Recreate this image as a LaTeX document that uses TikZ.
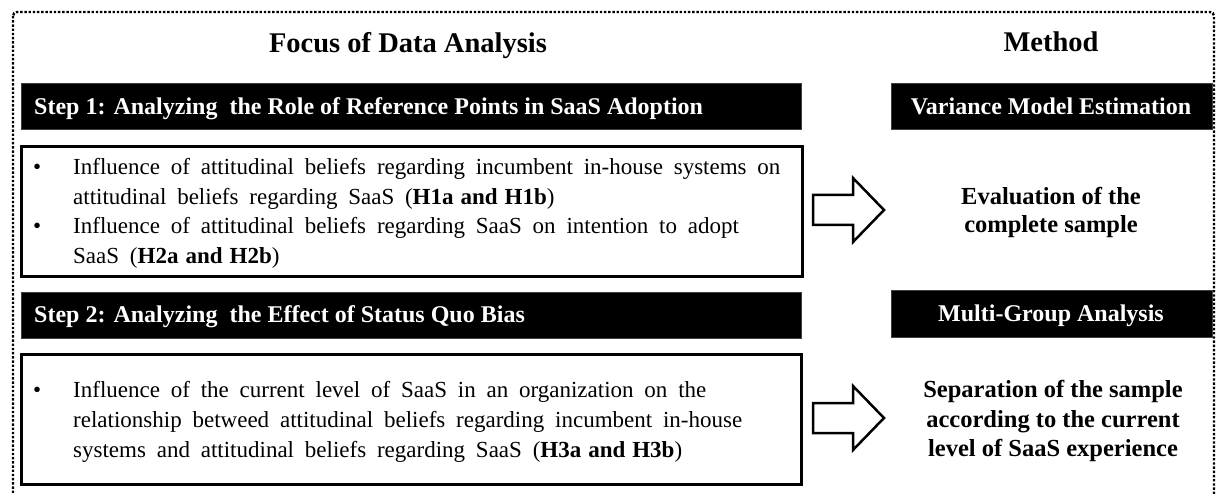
\documentclass[tikz,border=0pt]{standalone}
\usepackage{fontspec}
\setmainfont{Liberation Serif}
\newcommand{\hyp}[1]{{\bfseries\spaceskip=7pt\relax #1}}
\begin{document}
\begin{tikzpicture}[x=1pt,y=-1pt,
  frame/.style={draw, line width=2.4pt, dash pattern=on 2.4pt off 1.8pt, rounded corners=4pt},
  titletext/.style={font=\fontsize{28.5}{34}\selectfont\bfseries, inner sep=0pt, anchor=base},
  barbox/.style={fill=black, draw=black!75, line width=0.6pt, inner sep=0pt, anchor=north west},
  bartext/.style={text=white, font=\fontsize{24}{29}\selectfont\bfseries, inner sep=0pt},
  contentbox/.style={draw, line width=3pt, inner sep=0pt, anchor=north west},
  bodytext/.style={font={\fontsize{23}{29.5}\selectfont\spaceskip=10.8pt\relax}, inner sep=0pt, anchor=base west},
  methodtext/.style={font=\fontsize{24.5}{29}\selectfont\bfseries, inner sep=0pt, anchor=base},
  blockarrow/.style={draw, line width=2.5pt, fill=white, line join=miter}
]
\useasboundingbox[fill=white] (0,0) rectangle (1216,494);
% dotted frame
\draw[frame] (13,12) rectangle (1214,530);
% titles
\node[titletext] (tfocus) at (408,53) {Focus of Data Analysis};
\node[titletext] (tmethod) at (1051,52) {Method};
% step 1
\node[barbox, minimum width=780pt, minimum height=46pt] (bar1) at (21,83) {};
\node[bartext, anchor=base west] (bar1t) at (34,115) {Step 1: Analyzing \ the Role of Reference Points in SaaS Adoption};
\node[barbox, minimum width=321pt, minimum height=46pt] (mbar1) at (891,83) {};
\node[bartext, anchor=base] (mbar1t) at (1051,115) {Variance Model Estimation};
\node[contentbox, minimum width=781pt, minimum height=130pt] (box1) at (20,145) {};
\node[bodytext] (b1a) at (33,175) {\textbullet};
\node[bodytext] (l1a) at (73,175) {Influence of attitudinal beliefs regarding incumbent in-house systems on};
\node[bodytext] (l1b) at (73,204.5) {attitudinal beliefs regarding SaaS (\hyp{H1a and H1b})};
\node[bodytext] (b1b) at (33,234) {\textbullet};
\node[bodytext] (l1c) at (73,234) {Influence of attitudinal beliefs regarding SaaS on intention to adopt};
\node[bodytext] (l1d) at (73,263.5) {SaaS (\hyp{H2a and H2b})};
\draw[blockarrow] (813,195) -- (853,195) -- (853,178) -- (884,210) -- (853,242) -- (853,225) -- (813,225) -- cycle;
\node[methodtext] (m1a) at (1051,205) {Evaluation of the};
\node[methodtext] (m1b) at (1051,233) {complete sample};
% step 2
\node[barbox, minimum width=780pt, minimum height=46pt] (bar2) at (21,292) {};
\node[bartext, anchor=base west] (bar2t) at (34,323) {Step 2: Analyzing \ the Effect of Status Quo Bias};
\node[barbox, minimum width=321pt, minimum height=47pt] (mbar2) at (891,290) {};
\node[bartext, anchor=base] (mbar2t) at (1051,322) {Multi-Group Analysis};
\node[contentbox, minimum width=780pt, minimum height=130pt] (box2) at (20,353) {};
\node[bodytext] (b2a) at (33,398) {\textbullet};
\node[bodytext] (l2a) at (73,398) {Influence of the current level of SaaS in an organization on the};
\node[bodytext] (l2b) at (73,427) {relationship betweed attitudinal beliefs regarding incumbent in-house};
\node[bodytext] (l2c) at (73,457) {systems and attitudinal beliefs regarding SaaS (\hyp{H3a and H3b})};
\draw[blockarrow] (813,403) -- (853,403) -- (853,386) -- (884,418) -- (853,450) -- (853,433) -- (813,433) -- cycle;
\node[methodtext] (m2a) at (1053,398) {Separation of the sample};
\node[methodtext] (m2b) at (1053,427) {according to the current};
\node[methodtext] (m2c) at (1053,456) {level of SaaS experience};
\end{tikzpicture}
\end{document}
